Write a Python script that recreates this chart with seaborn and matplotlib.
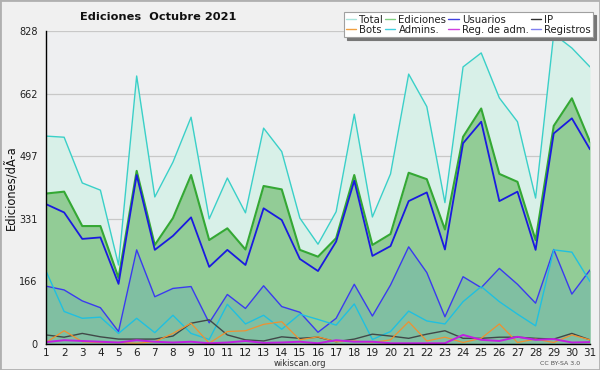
import matplotlib
matplotlib.use("Agg")
import matplotlib.pyplot as plt
import seaborn as sns
import pandas as pd
import numpy as np
from matplotlib.ticker import FixedLocator

days = list(range(1, 32))
total = [550, 547, 426, 407, 209, 709, 389, 481, 600, 331, 439, 347, 571, 509, 333, 264,
         350, 608, 336, 450, 714, 628, 374, 733, 770, 651, 588, 386, 820, 783, 733]
ediciones = [398, 403, 312, 312, 175, 458, 262, 333, 447, 275, 306, 250, 418, 409, 249, 231,
             280, 447, 262, 291, 453, 436, 303, 548, 623, 450, 429, 275, 577, 650, 535]
usuarios = [370, 348, 278, 282, 159, 447, 249, 286, 335, 204, 249, 209, 359, 328, 225, 193,
            271, 432, 233, 259, 378, 401, 250, 531, 588, 378, 403, 249, 557, 597, 515]
registros = [153, 143, 114, 96, 33, 249, 125, 147, 152, 56, 131, 94, 154, 99, 84, 31,
             68, 158, 74, 156, 257, 189, 72, 178, 149, 200, 158, 108, 250, 132, 196]
admins = [193, 86, 68, 71, 28, 68, 30, 76, 28, 12, 105, 53, 76, 39, 79, 65,
          50, 106, 12, 33, 87, 61, 53, 112, 152, 112, 79, 48, 249, 243, 165]
ip = [24, 18, 28, 19, 13, 13, 13, 21, 55, 64, 24, 11, 8, 19, 15, 18,
      6, 13, 26, 21, 15, 26, 35, 15, 15, 18, 18, 15, 13, 28, 11]
bots = [4, 35, 6, 4, 4, 2, 6, 28, 55, 2, 33, 35, 52, 59, 11, 19,
        6, 8, 4, 11, 59, 8, 18, 4, 15, 53, 4, 13, 4, 24, 11]
regadm = [5, 10, 8, 6, 4, 10, 6, 4, 6, 2, 4, 8, 3, 4, 6, 2,
          10, 6, 6, 2, 2, 2, 2, 24, 11, 8, 19, 11, 13, 4, 5]

yticks = [0, 166, 331, 497, 662, 828]
title = "Ediciones  Octubre 2021"
ylabel = "Ediciones/dÃ-a"

df = pd.DataFrame({"day": days, "Total": total, "Ediciones": ediciones, "Usuarios": usuarios,
                   "IP": ip, "Bots": bots, "Admins.": admins, "Reg. de adm.": regadm,
                   "Registros": registros})

sns.set_style("white")
plt.rcParams['font.family'] = ['DejaVu Sans']

fig = plt.figure(figsize=(6, 3.7), dpi=100, facecolor="#f0f0f0")
ax = fig.add_axes([46/600, 1-344/370, (590-46)/600, (344-31)/370])
ax.set_facecolor("#eeeff1")

# fills
ax.fill_between(df["day"], df["Total"], color="#d8f0e8", zorder=1, lw=0)
ax.fill_between(df["day"], df["Ediciones"], color="#92cc96", zorder=2, lw=0)
ax.fill_between(df["day"], df["Registros"], color="#80bfa2", zorder=3, lw=0)

line_styles = [
    ("Total", "#3ad0c8", 1.0),
    ("Ediciones", "#34a834", 1.5),
    ("Usuarios", "#1a1ae0", 1.3),
    ("Registros", "#3a3af0", 1.0),
    ("Admins.", "#20c0e0", 1.0),
    ("IP", "#404848", 1.0),
    ("Bots", "#f09030", 0.9),
    ("Reg. de adm.", "#c020e0", 1.4),
]
for i, (name, col, lw) in enumerate(line_styles):
    sns.lineplot(data=df, x="day", y=name, ax=ax, color=col, lw=lw, zorder=5+i, legend=False)

ax.set_xlim(1, 31)
ax.set_ylim(0, 828)
ax.set_xticks(days)
ax.set_xticklabels([str(d) for d in days], fontsize=7.5, color="#202020")
ax.set_yticks(yticks)
ax.set_yticklabels([str(v) for v in yticks], fontsize=7, color="#202020")
ax.yaxis.set_minor_locator(FixedLocator([(yticks[i] + yticks[i+1]) / 2 for i in range(len(yticks)-1)]))
ax.tick_params(axis="y", which="major", length=5, width=0.8, color="#303030", pad=1)
ax.tick_params(axis="y", which="minor", length=4, width=0.8, color="#303030")
ax.tick_params(axis="x", which="major", length=3, width=0.8, color="#303030", pad=0)
ax.grid(axis="y", color="#c8c8c8", lw=0.9, zorder=0)
ax.set_axisbelow(True)
for s in ["top", "right"]:
    ax.spines[s].set_visible(False)
for s in ["left", "bottom"]:
    ax.spines[s].set_color("#000000")
    ax.spines[s].set_linewidth(1.0)
    ax.spines[s].set_zorder(20)
ax.set_xlabel("")
ax.set_ylabel(ylabel, fontsize=8.3, color="#101010")
ax.yaxis.set_label_coords((18 - 46) / 544, 0.5)

fig.text(158/600, 1-17/370, title, fontsize=8.2, fontweight="bold", ha="center", va="center", color="#101010")
fig.text(300/600, 1-363.5/370, "wikiscan.org", fontsize=6, ha="center", va="center", color="#303030")
fig.text(560/600, 1-363.5/370, "CC BY-SA 3.0", fontsize=4.5, ha="center", va="center", color="#505050")

# legend
leg_colors = {"Total": "#a8e4dc", "Ediciones": "#80d080", "Usuarios": "#4040e0", "IP": "#303030",
              "Bots": "#f0a040", "Admins.": "#40d0e0", "Reg. de adm.": "#d040e0", "Registros": "#8080f0"}
order = ["Total", "Bots", "Ediciones", "Admins.", "Usuarios", "Reg. de adm.", "IP", "Registros"]
handles = [plt.Line2D([], [], color=leg_colors[n], lw=1) for n in order]
leg = fig.legend(handles, order, loc="upper right", bbox_to_anchor=(593/600, 1-12/370), ncol=4,
                 fontsize=7.3, frameon=True, fancybox=False, shadow={"color": "#777777", "alpha": 1},
                 handlelength=1.0, handletextpad=0.3, columnspacing=0.2, labelspacing=0.0,
                 borderpad=0.25, borderaxespad=0)
leg.get_frame().set_edgecolor("#a0a0a0")
leg.get_frame().set_facecolor("#ffffff")
leg.get_frame().set_linewidth(0.8)
for t in leg.get_texts():
    t.set_color("#202020")

# figure border
fig.patches.append(plt.Rectangle((0, 0), 1, 1, transform=fig.transFigure, fill=False,
                                 edgecolor="#b0b0b0", lw=2))

fig.savefig("out.png", dpi=100, facecolor=fig.get_facecolor())
